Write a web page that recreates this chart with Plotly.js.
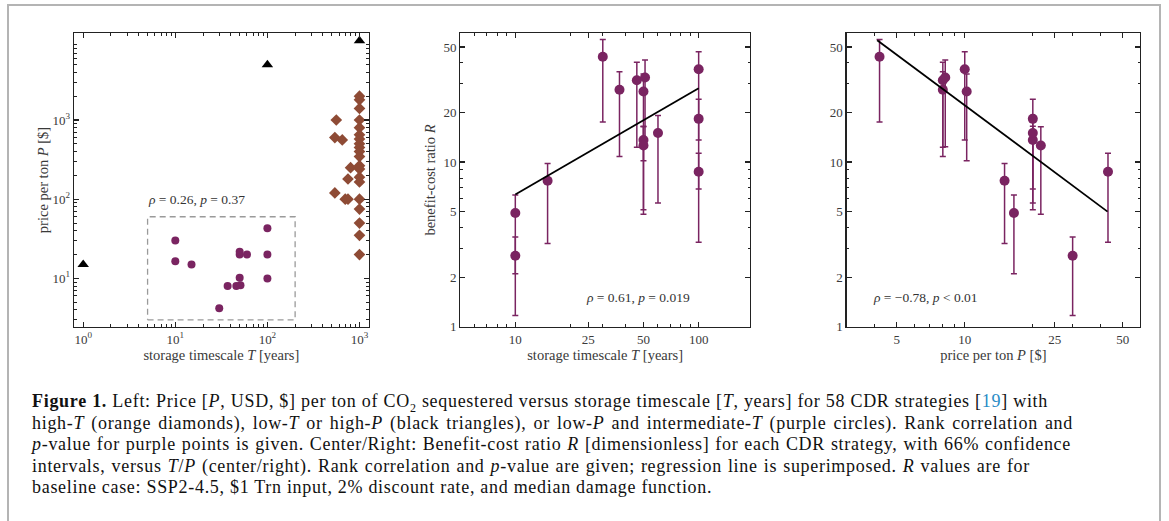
<!DOCTYPE html>
<html><head><meta charset="utf-8">
<script src="https://cdn.plot.ly/plotly-3.0.1.min.js"></script>
<style>
body{margin:0;background:#fff;width:1169px;height:521px;overflow:hidden;position:relative;font-family:"Liberation Serif",serif}
#plot{position:absolute;left:0;top:0;width:1169px;height:521px}
#frame{position:absolute;left:7px;top:4px;width:1150px;height:600px;border:2px solid #b4b4b4;pointer-events:none}
#cap{position:absolute;left:32px;top:391px;font-size:18px;letter-spacing:0.7px;line-height:21.6px;color:#111;white-space:nowrap}
#cap a{color:#2a8cc6;text-decoration:none}
#cap .j{display:block;text-align:justify;text-align-last:justify;white-space:normal;height:21.6px;overflow:visible}
#cap .n{display:block}
</style></head><body>
<div id="plot"></div>
<div id="frame"></div>
<div id="cap"><span class="j" style="width:1016px"><b>Figure 1.</b> Left: Price [<i>P</i>, USD, $] per ton of CO<sub style="font-size:12px;line-height:0">2</sub> sequestered versus storage timescale [<i>T</i>, years] for 58 CDR strategies [<a>19</a>] with</span><span class="j" style="width:1041px">high-<i>T</i> (orange diamonds), low-<i>T</i> or high-<i>P</i> (black triangles), or low-<i>P</i> and intermediate-<i>T</i> (purple circles). Rank correlation and</span><span class="j" style="width:1039px"><i>p</i>-value for purple points is given. Center/Right: Benefit-cost ratio <i>R</i> [dimensionless] for each CDR strategy, with 66% confidence</span><span class="j" style="width:998px">intervals, versus <i>T</i>/<i>P</i> (center/right). Rank correlation and <i>p</i>-value are given; regression line is superimposed. <i>R</i> values are for</span><span class="n">baseline case: SSP2-4.5, $1 Trn input, 2% discount rate, and median damage function.</span></div>
<script>
// Left panel: price vs storage timescale
var triT = [1, 100, 1000];
var triP = [15, 5000, 10000];
var diaT = [560, 540, 650, 800, 750, 540, 700, 750,
            1000, 1000, 1000, 1000, 1000, 1000, 1000, 1000, 1000, 1000,
            1000, 1000, 1000, 1000, 1000, 1000, 1000, 1000, 1000, 1000];
var diaP = [1000, 600, 560, 250, 180, 120, 100, 100,
            2000, 1800, 1400, 1000, 800, 650, 575, 500, 450, 400,
            345, 265, 240, 190, 165, 100, 75, 50, 35, 20];
// Purple strategies (same order in all panels)
var purT = [10, 10, 15, 30, 37, 46, 50, 51, 50, 50, 60, 100, 100, 100];
var purP = [30, 16.5, 15, 4.2, 8, 8, 10.2, 8.2, 20, 21.7, 20, 10, 20, 43];
var purR = [2.7, 4.9, 7.7, 43.6, 27.5, 31.4, 26.8, 32.6, 13.6, 12.6, 15, 36.6, 18.3, 8.73];
var purRhi = [3.5, 6.3, 9.8, 55.6, 35.4, 40.4, 34.3, 41.7, 16.5, 16.4, 19.2, 46.8, 24.1, 11.3];
var purRlo = [1.17, 2.1, 3.2, 17.5, 10.8, 12.3, 10.2, 12.4, 5.14, 4.82, 5.64, 13.6, 6.86, 3.26];
// Dashed selection box (T range, P range)
var boxT = [5, 200, 200, 5, 5];
var boxP = [3, 3, 60, 60, 3];
// Regression lines
var regT = [10, 100];
var regRT = [6.36, 28.1];
var regP = [4.1, 42.8];
var regRP = [55, 5.0];
// Stats labels
var statLeft = '<i>ρ</i> = 0.26, <i>p</i> = 0.37';
var statCenter = '<i>ρ</i> = 0.61, <i>p</i> = 0.019';
var statRight = '<i>ρ</i> = −0.78, <i>p</i> &lt; 0.01';

var PURPLE = '#7a2461', BROWN = '#8e4b35';
var errHi = purRhi.map(function(v,i){return v - purR[i];});
var errLo = purRlo.map(function(v,i){return purR[i] - v;});

var traces = [
  {x: boxT, y: boxP, xaxis:'x', yaxis:'y', mode:'lines', line:{color:'#9a9a9a', width:1.3, dash:'6px,4px'}, hoverinfo:'skip'},
  {x: diaT, y: diaP, xaxis:'x', yaxis:'y', mode:'markers', marker:{symbol:'diamond', size:9, color:BROWN}},
  {x: triT, y: triP, xaxis:'x', yaxis:'y', mode:'markers', marker:{symbol:'triangle-up', size:10, color:'#000'}},
  {x: purT, y: purP, xaxis:'x', yaxis:'y', mode:'markers', marker:{symbol:'circle', size:8, color:PURPLE}},
  {x: purT, y: purR, xaxis:'x2', yaxis:'y2', mode:'markers', marker:{size:10, color:PURPLE},
   error_y:{type:'data', symmetric:false, array:errHi, arrayminus:errLo, color:PURPLE, thickness:1.5, width:3}},
  {x: regT, y: regRT, xaxis:'x2', yaxis:'y2', mode:'lines', line:{color:'#000', width:1.8}},
  {x: purP, y: purR, xaxis:'x3', yaxis:'y3', mode:'markers', marker:{size:10, color:PURPLE},
   error_y:{type:'data', symmetric:false, array:errHi, arrayminus:errLo, color:PURPLE, thickness:1.5, width:3}},
  {x: regP, y: regRP, xaxis:'x3', yaxis:'y3', mode:'lines', line:{color:'#000', width:1.8}}
];

function ax(extra){
  var base = {type:'log', showline:true, linecolor:'#222', linewidth:1.3, mirror:'allticks',
    ticks:'inside', ticklen:5, tickwidth:1.2, tickcolor:'#222', showgrid:false, zeroline:false,
    tickmode:'array', tickfont:{size:13, color:'#3a3a3a', family:'Liberation Serif'}};
  for (var k in extra) base[k] = extra[k];
  return base;
}
function mn(vals){return {ticks:'inside', ticklen:2.5, tickwidth:1, tickcolor:'#222', showgrid:false, tickvals:vals};}
var W = 1169, H = 521;
function dx(a,b){return [a/W, b/W];}
var dy = [(H-326.7)/H, (H-33.3)/H];
var ttl = {size:14.5, color:'#3a3a3a', family:'Liberation Serif'};

var layout = {
  width: W, height: H, margin:{l:0,r:0,t:0,b:0}, showlegend:false,
  paper_bgcolor:'rgba(0,0,0,0)', plot_bgcolor:'rgba(0,0,0,0)',
  font:{family:'Liberation Serif', color:'#333'},
  xaxis: ax({domain:dx(74,368.7), anchor:'y', range:[-0.1,3.1],
    tickvals:[1,10,100,1000], ticktext:['10<sup>0</sup>','10<sup>1</sup>','10<sup>2</sup>','10<sup>3</sup>'],
    minor:mn([2,3,4,5,6,7,8,9,20,30,40,50,60,70,80,90,200,300,400,500,600,700,800,900]),
    title:{text:'storage timescale <i>T</i> [years]', font:ttl, standoff:3}}),
  yaxis: ax({domain:dy, anchor:'x', range:[0.39,4.095],
    tickvals:[10,100,1000], ticktext:['10<sup>1</sup>','10<sup>2</sup>','10<sup>3</sup>'],
    minor:mn([3,4,5,6,7,8,9,20,30,40,50,60,70,80,90,200,300,400,500,600,700,800,900,2000,3000,4000,5000,6000,7000,8000,9000]),
    title:{text:'price per ton <i>P</i> [$]', font:ttl, standoff:0}}),
  xaxis2: ax({domain:dx(460.3,750), anchor:'y2', range:[0.7,2.28],
    tickvals:[10,25,50,100], ticktext:['10','25','50','100'],
    minor:mn([6,7,8,9,20,30,40,60,70,80,90]),
    title:{text:'storage timescale <i>T</i> [years]', font:ttl, standoff:3}}),
  yaxis2: ax({domain:dy, anchor:'x2', range:[0,1.782],
    tickvals:[1,2,5,10,20,50], ticktext:['1','2','5','10','20','50'],
    minor:mn([3,4,6,7,8,9,30,40]),
    title:{text:'benefit-cost ratio <i>R</i>', font:ttl, standoff:4}}),
  xaxis3: ax({domain:dx(846.7,1140), anchor:'y3', range:[0.478,1.775],
    tickvals:[5,10,25,50], ticktext:['5','10','25','50'],
    minor:mn([4,6,7,8,9,20,30,40]),
    title:{text:'price per ton <i>P</i> [$]', font:ttl, standoff:3}}),
  yaxis3: ax({domain:dy, anchor:'x3', range:[0,1.782],
    tickvals:[1,2,5,10,20,50], ticktext:['1','2','5','10','20','50'],
    minor:mn([3,4,6,7,8,9,30,40])}),
  annotations:[
    {xref:'x domain', yref:'y domain', x:0.245, y:0.40, xanchor:'left', yanchor:'bottom', showarrow:false, text:statLeft, font:{size:13.5, color:'#333'}},
    {xref:'x2 domain', yref:'y2 domain', x:0.614, y:0.101, xanchor:'center', yanchor:'middle', showarrow:false, text:statCenter, font:{size:13.5, color:'#333'}},
    {xref:'x3 domain', yref:'y3 domain', x:0.27, y:0.101, xanchor:'center', yanchor:'middle', showarrow:false, text:statRight, font:{size:13.5, color:'#333'}}
  ]
};
Plotly.newPlot('plot', traces, layout, {displayModeBar:false, staticPlot:true});
</script></body></html>
